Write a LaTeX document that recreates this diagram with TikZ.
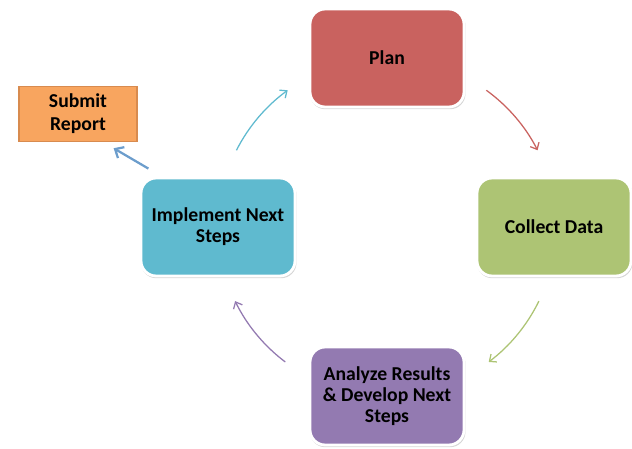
\documentclass[tikz,border=0pt]{standalone}
\usepackage{fontspec}
\setmainfont{Carlito}
\usetikzlibrary{calc}
\usetikzlibrary{arrows.meta}
\usetikzlibrary{shadows}

\definecolor{planred}{HTML}{C9625F}
\definecolor{collectgreen}{HTML}{ADC474}
\definecolor{analyzepurple}{HTML}{937AB1}
\definecolor{implementcyan}{HTML}{5FBACF}
\definecolor{submitorange}{HTML}{F8A55F}
\definecolor{submitedge}{HTML}{D88B4F}
\definecolor{submitblue}{HTML}{6C9DCC}

\tikzset{
  stage/.style={draw=white, line width=2pt, rounded corners=0.38cm,
    minimum width=3.85cm, minimum height=2.45cm, align=center,
    font=\fontsize{14}{15}\selectfont\bfseries, text=black,
    drop shadow={opacity=0.32, shadow xshift=0.5pt, shadow yshift=-1.2pt, shadow scale=1.01}},
  cyclearrow/.style={line width=0.9pt, -{Straight Barb[length=4pt, width=7pt]}},
}

\begin{document}
\begin{tikzpicture}
  \useasboundingbox (0,0) rectangle (15.8,11.2);
  \node[stage, fill=planred] (plan) at (9.675,9.75) {Plan};
  \node[stage, fill=collectgreen] (collect) at (13.85,5.525) {Collect Data};
  \node[stage, fill=analyzepurple] (analyze) at (9.675,1.3) {Analyze Results\\\& Develop Next\\Steps};
  \node[stage, fill=implementcyan] (implement) at (5.45,5.525) {Implement Next\\Steps};
  \node[draw=submitedge, line width=0.9pt, fill=submitorange, minimum width=2.95cm, minimum height=1.38cm,
    align=center, font=\fontsize{14}{16.5}\selectfont\bfseries] (submit) at (1.95,8.35) {Submit\\Report};
  % centre of the cycle
  \coordinate (hub) at (plan |- implement);
  \draw[cyclearrow, planred] ($(hub)+(54:4.225)$) arc[start angle=54, end angle=27, radius=4.225];
  \draw[cyclearrow, collectgreen] ($(hub)+(-26:4.225)$) arc[start angle=-26, end angle=-53, radius=4.225];
  \draw[cyclearrow, analyzepurple] ($(hub)+(-127:4.225)$) arc[start angle=-127, end angle=-154, radius=4.225];
  \draw[cyclearrow, implementcyan] ($(hub)+(153:4.225)$) arc[start angle=153, end angle=126, radius=4.225];
  \draw[submitblue, line width=1.6pt, -{Straight Barb[length=5pt, width=9pt]}]
    ($(implement.north west)+(0.22,0.2)$) -- ($(submit.south east)+(-0.6,-0.15)$);
\end{tikzpicture}
\end{document}
